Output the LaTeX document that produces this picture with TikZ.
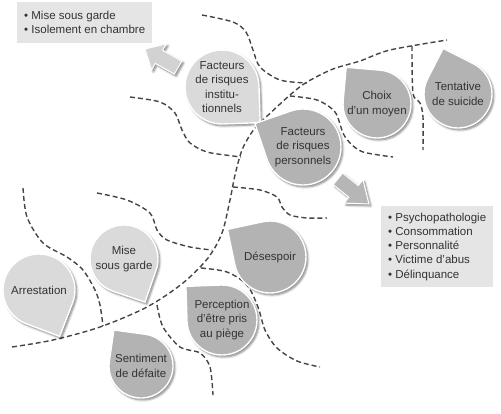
\documentclass[tikz,border=0pt]{standalone}
\usepackage{fontspec}
\setmainfont{Liberation Sans}
\usetikzlibrary{calc,shadows.blur}
\definecolor{dropdark}{HTML}{B3B3B3}
\definecolor{droplight}{HTML}{DADADA}
\definecolor{boxgrey}{HTML}{E5E5E5}
\definecolor{arrowlight}{HTML}{D2D2D2}
\definecolor{arrowdark}{HTML}{B6B6B6}
\definecolor{dashgrey}{HTML}{454545}
\definecolor{textgrey}{HTML}{333333}

% drop: name, centre, radius, angle of the tip, fill, text
\newcommand{\goutte}[6]{%
  \path[fill=#5, draw=white, line width=1.4pt, goutteshadow]
    ($#2+(#4:{1.41*#3})$) -- ($#2+(#4+45:#3)$)
    arc[start angle={#4+45}, end angle={#4+315}, radius=#3] -- cycle;
  \node[lbl] (#1) at #2 {#6};
}

\begin{document}
\begin{tikzpicture}[x=1pt, y=-1pt,
  lbl/.style={font=\fontsize{11.5}{14.3}\selectfont, text=textgrey, align=center, inner sep=0pt},
  dashline/.style={dashgrey, line width=1.4pt, dash pattern=on 5pt off 3pt},
  goutteshadow/.style={blur shadow={shadow xshift=1.8pt, shadow yshift=-2pt, shadow blur steps=6, shadow opacity=50}},
  infobox/.style={fill=boxgrey, font=\fontsize{11.5}{14.3}\selectfont, text=textgrey, align=left, inner xsep=7pt},
  bigarrow/.style={draw=white, line width=1pt, goutteshadow}
]
\useasboundingbox (0,0) rectangle (501,413);

% dashed borders
\draw[dashline] plot[smooth] coordinates {(12,347) (53,340) (100,327) (147,307) (183,283) (208,258) (222,233) (230,200) (235,175) (242,150) (252,132) (263,120) (290,95) (307,82) (333,69) (360,61) (390,50) (447,40)};
\draw[dashline] plot[smooth] coordinates {(202,15) (233,22) (246,32) (253,50) (260,67) (280,80) (307,83)};
\draw[dashline] plot[smooth] coordinates {(130,97) (160,102) (175,113) (182,130) (190,143) (207,152) (233,156) (241,157)};
\draw[dashline] plot[smooth] coordinates {(290,96) (317,100) (335,112) (343,133) (350,143) (363,152) (393,157)};
\draw[dashline] plot[smooth] coordinates {(412,46) (413,93) (420,103) (423,117) (423,150)};
\draw[dashline] plot[smooth] coordinates {(233,187) (260,190) (277,197) (282,207) (290,215) (307,218) (327,218)};
\draw[dashline] plot[smooth] coordinates {(201,268) (227,272) (247,285) (258,307) (265,330) (277,348) (297,361) (320,367)};
\draw[dashline] plot[smooth] coordinates {(157,305) (163,327) (180,347) (200,353) (210,367) (213,395)};
\draw[dashline] plot[smooth] coordinates {(97,193) (127,200) (150,213) (157,230) (167,240) (190,247) (212,250)};
\draw[dashline] plot[smooth] coordinates {(23,188) (27,217) (43,243) (67,257) (83,270) (95,290) (100,305) (103,326)};

% info boxes
\node[infobox, anchor=north west, minimum width=132pt, minimum height=41pt] (garde) at (17,2)
  {\textbullet\ Mise sous garde\\\textbullet\ Isolement en chambre};
\node[infobox, anchor=north west, minimum width=110pt, minimum height=81pt] (liste) at (381,206)
  {\textbullet\ Psychopathologie\\\textbullet\ Consommation\\\textbullet\ Personnalité\\\textbullet\ Victime d’abus\\\textbullet\ Délinquance};

% block arrows
\path[bigarrow, fill=arrowlight] (181.8,61.1) -- (162.6,50.3) -- (166.3,43.8) -- (145,49)
  -- (151.6,69.9) -- (155.3,63.4) -- (174.4,74.1) -- cycle;
\path[bigarrow, fill=arrowdark] (342.6,173.0) -- (358.2,185.6) -- (362.9,179.7) -- (369,204)
  -- (344.1,203.1) -- (348.8,197.2) -- (333.2,184.6) -- cycle;

% drops
\goutte{inst}{(222,87)}{37}{43}{droplight}{Facteurs\\de risques\\institu-\\tionnels}
\goutte{choix}{(377,104)}{34}{-130}{dropdark}{Choix\\d’un moyen}
\goutte{tentative}{(458,94)}{34}{-108}{dropdark}{Tentative\\de suicide}
\goutte{perso}{(303,147)}{38}{-154}{dropdark}{Facteurs\\de risques\\personnels}
\goutte{desespoir}{(270,257)}{36}{-147}{dropdark}{Désespoir}
\goutte{piege}{(222,320)}{35}{-137}{dropdark}{Perception\\d’être pris\\au piège}
\goutte{defaite}{(141,366)}{32}{-127}{dropdark}{Sentiment\\de défaite}
\goutte{mise}{(124,259)}{34}{64}{droplight}{Mise\\sous garde}
\goutte{arrest}{(39,290)}{36}{66}{droplight}{Arrestation}
\end{tikzpicture}
\end{document}
